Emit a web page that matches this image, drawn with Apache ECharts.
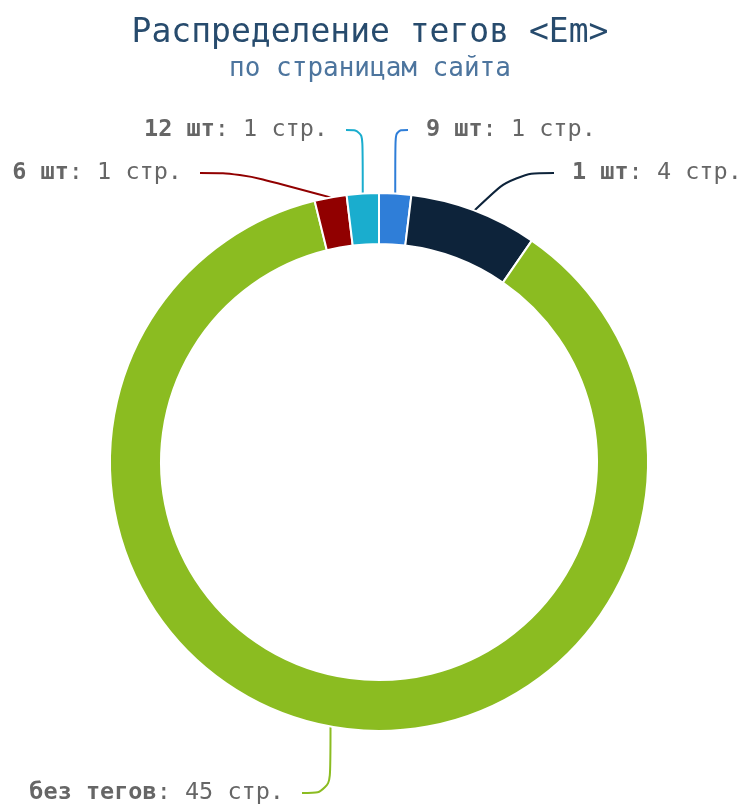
<!DOCTYPE html>
<html><head><meta charset="utf-8">
<script src="https://cdn.jsdelivr.net/npm/echarts@6/dist/echarts.min.js"></script>
<style>html,body{margin:0;padding:0;background:#fff}#c{width:740px;height:805px}</style>
</head><body><div id="c"></div>
<script>
const categories = ['9 шт', '1 шт', 'без тегов', '6 шт', '12 шт'];
const pages = [1, 4, 45, 1, 1];
const colors = ['#2f7ed8', '#0d233a', '#8bbc21', '#910000', '#1aadce'];
const titleText = 'Распределение тегов <Em>';
const subtitleText = 'по страницам сайта';

// label anchor placement (layout only)
const gap = 18;
const labelPlace = [
  {x: 426 - gap, y: 130, align: 'left'},
  {x: 572 - gap, y: 173, align: 'left'},
  {x: 284 + gap, y: 793, align: 'right'},
  {x: 182 + gap, y: 173, align: 'right'},
  {x: 328 + gap, y: 130, align: 'right'}
];

const chart = echarts.init(document.getElementById('c'));
const font = 'DejaVu Sans Mono';
chart.setOption({
  animation: false,
  title: {
    text: titleText, subtext: subtitleText, left: 'center', top: 12, itemGap: 6,
    padding: [5, 5, 5, 23],
    textStyle: {fontFamily: font, fontSize: 33, fontWeight: 'normal', color: '#274b6d'},
    subtextStyle: {fontFamily: font, fontSize: 26, color: '#4d759e'}
  },
  series: [{
    type: 'pie',
    center: [379, 462],
    radius: [218, 269],
    startAngle: 90,
    clockwise: true,
    itemStyle: {borderColor: '#fff', borderWidth: 2},
    label: {
      overflow: 'none',
      formatter: function (p) {
        const body = '{n|' + p.name + '}{v|: ' + p.value + ' стр.}';
        return labelPlace[p.dataIndex].align === 'left' ? '{s|}' + body : body + '{s|}';
      },
      rich: {
        s: {width: gap},
        n: {fontFamily: font, fontSize: 23.5, fontWeight: 'bold', color: '#666'},
        v: {fontFamily: font, fontSize: 23.5, color: '#666'}
      }
    },
    labelLine: {length: 30, length2: 40, smooth: 0.4, lineStyle: {width: 2}},
    labelLayout: function (p) {
      const l = labelPlace[p.dataIndex];
      return {x: l.x, y: l.y, align: l.align, verticalAlign: 'middle'};
    },
    data: categories.map((c, i) => ({name: c, value: pages[i], itemStyle: {color: colors[i]}}))
  }]
});
</script></body></html>
